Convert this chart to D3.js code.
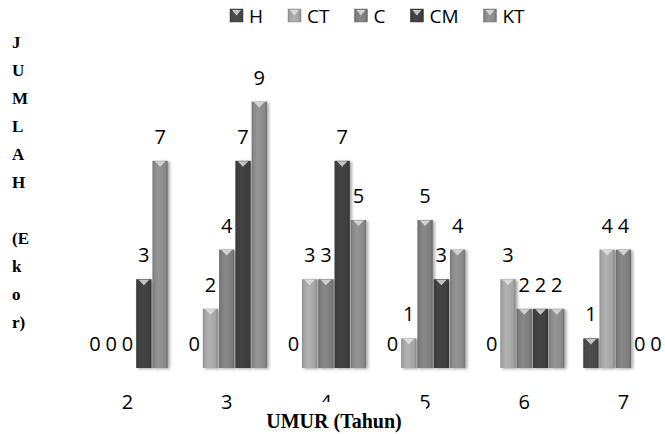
<!DOCTYPE html>
<html>
<head>
<meta charset="utf-8">
<script src="https://cdn.jsdelivr.net/npm/d3@7"></script>
<style>
  body { margin: 0; background: #fff; }
  svg { display: block; }
</style>
</head>
<body>
<div id="container"></div>
<script>
/* CONSTANTS AND GLOBALS */
const width = 665;
const height = 434;

// data
const categories = ["2", "3", "4", "5", "6", "7"];
const seriesNames = ["H", "CT", "C", "CM", "KT"];
const valH  = [0, 0, 0, 0, 0, 1];
const valCT = [0, 2, 3, 1, 3, 4];
const valC  = [0, 4, 3, 5, 2, 4];
const valCM = [3, 7, 7, 3, 2, 0];
const valKT = [7, 9, 5, 4, 2, 0];
const seriesColors = ["#474747", "#a3a3a3", "#7c7c7c", "#3e3e3e", "#888888"];

const allValues = [valH, valCT, valC, valCM, valKT];

const data = [];
categories.forEach((cat, i) => {
  seriesNames.forEach((s, j) => {
    data.push({cat: cat, series: s, value: allValues[j][i]});
  });
});

const svg = d3.select("#container")
  .append("svg")
  .attr("width", width)
  .attr("height", height);

const defs = svg.append("defs");

// bevel-ish gradient for each series
seriesNames.forEach((s, j) => {
  const base = d3.color(seriesColors[j]);
  const g = defs.append("linearGradient")
    .attr("id", "grad" + s)
    .attr("x1", "0%").attr("x2", "100%").attr("y1", "0%").attr("y2", "0%");
  g.append("stop").attr("offset", "0%").attr("stop-color", base.darker(0.5));
  g.append("stop").attr("offset", "12%").attr("stop-color", base);
  g.append("stop").attr("offset", "40%").attr("stop-color", base.brighter(0.25));
  g.append("stop").attr("offset", "85%").attr("stop-color", base);
  g.append("stop").attr("offset", "100%").attr("stop-color", base.darker(0.6));
});

const shadow = defs.append("filter").attr("id", "shadow")
  .attr("x", "-30%").attr("y", "-5%").attr("width", "170%").attr("height", "115%");
shadow.append("feDropShadow")
  .attr("dx", 2).attr("dy", 1).attr("stdDeviation", 1.5)
  .attr("flood-color", "#000").attr("flood-opacity", 0.35);

/* SCALES */
const xScale = d3.scaleBand()
  .domain(categories)
  .range([78, 673])
  .paddingInner(0.19)
  .paddingOuter(0.095);

const xSub = d3.scaleBand()
  .domain(seriesNames)
  .range([0, xScale.bandwidth()])
  .paddingInner(0.06);

const yScale = d3.scaleLinear()
  .domain([0, 10])
  .range([368, 72]);

// axis line
const xAxisGroup = svg.append("g")
  .attr("transform", `translate(0, ${yScale(0)})`)
  .call(d3.axisBottom(xScale).tickSize(0).tickPadding(34))
xAxisGroup.select(".domain")
  .attr("stroke", "#8c8c8c")
  .attr("stroke-width", 1.5)
  .attr("d", `M78,0H${width}`)
  .attr("filter", "url(#shadow)");
xAxisGroup.selectAll(".tick text")
  .attr("font-family", "Open Sans")
  .attr("font-size", 20)
  .attr("fill", "#000")
  .attr("dy", "0.35em");

//bars
const barData = data.filter(d => d.value > 0);
const bars = svg.selectAll("rect.bar")
  .data(barData)
  .join("rect")
  .attr("class", "bar")
  .attr("x", d => xScale(d.cat) + xSub(d.series))
  .attr("y", d => yScale(d.value))
  .attr("width", xSub.bandwidth())
  .attr("height", d => yScale(0) - yScale(d.value))
  .attr("fill", d => `url(#grad${d.series})`)
  .attr("filter", "url(#shadow)");

// little bevel triangle at the bar top
svg.selectAll("path.cap")
  .data(barData)
  .join("path")
  .attr("class", "cap")
  .attr("d", d => {
    const x = xScale(d.cat) + xSub(d.series);
    const w = xSub.bandwidth();
    const y = yScale(d.value);
    return `M${x + w * 0.15},${y + 0.5}L${x + w * 0.85},${y + 0.5}L${x + w / 2},${y + 6}Z`;
  })
  .attr("fill", "#e4e4e4")
  .attr("opacity", 0.8);

// value labels
svg.selectAll("text.value")
  .data(data)
  .join("text")
  .attr("class", "value")
  .attr("x", d => xScale(d.cat) + xSub(d.series) + xSub.bandwidth() / 2)
  .attr("y", d => yScale(d.value) - 17)
  .attr("text-anchor", "middle")
  .attr("font-family", "Open Sans")
  .attr("font-size", 20)
  .attr("fill", "#000")
  .text(d => d.value);

// legend
const legend = svg.append("g").attr("class", "legend");
let lx = 230;
seriesNames.forEach((s, j) => {
  const item = legend.append("g").attr("transform", `translate(${lx}, 9)`);
  item.append("rect")
    .attr("width", 13).attr("height", 13)
    .attr("fill", `url(#grad${s})`)
    .attr("stroke", d3.color(seriesColors[j]).darker(0.4))
    .attr("stroke-width", 0.5);
  item.append("path")
    .attr("d", "M2,1L11,1L6.5,6.5Z")
    .attr("fill", "#e4e4e4").attr("opacity", 0.8);
  const t = item.append("text")
    .attr("x", 19).attr("y", 13.5)
    .attr("font-family", "Open Sans")
    .attr("font-size", 19)
    .text(s);
  lx += 19 + t.node().getComputedTextLength() + 25;
});

// x title, white box hides part of the tick labels as in the original
const xTitle = svg.append("g");
xTitle.append("rect")
  .attr("x", 250).attr("y", 402).attr("width", 176).attr("height", 32)
  .attr("fill", "#fff");
xTitle.append("text")
  .attr("x", 334).attr("y", 428)
  .attr("text-anchor", "middle")
  .attr("font-family", "Liberation Serif")
  .attr("font-weight", "bold")
  .attr("font-size", 20)
  .text("UMUR (Tahun)");

// y title, stacked letters
const yTitleLines = ["J", "U", "M", "L", "A", "H", "", "(E", "k", "o", "r)"];
svg.append("g").selectAll("text")
  .data(yTitleLines)
  .join("text")
  .attr("x", 12)
  .attr("y", (d, i) => 48 + i * 28)
  .attr("font-family", "Liberation Serif")
  .attr("font-weight", "bold")
  .attr("font-size", 17)
  .text(d => d);
</script>
</body>
</html>
